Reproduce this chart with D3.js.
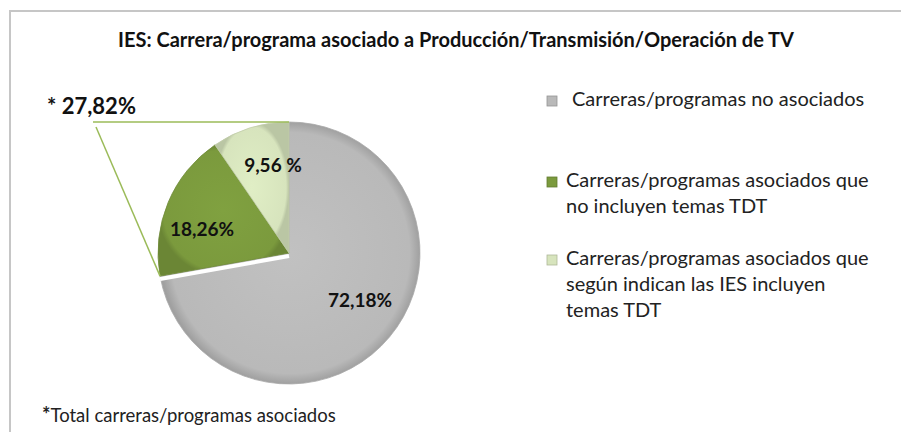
<!DOCTYPE html>
<html>
<head>
<meta charset="utf-8">
<script src="https://cdn.jsdelivr.net/npm/d3@7"></script>
<style>
body { margin: 0; background: #fff; }
text { font-family: Lato, "Open Sans", sans-serif; }
</style>
</head>
<body>
<div id="chart"></div>
<script>
// chart data
var categories = ["Carreras/programas no asociados",
    "Carreras/programas asociados que no incluyen temas TDT",
    "Carreras/programas asociados que según indican las IES incluyen temas TDT"];
var values = [72.18, 18.26, 9.56];
var valueLabels = ["72,18%", "18,26%", "9,56 %"];
var legendLines = [
    ["Carreras/programas no asociados"],
    ["Carreras/programas asociados que", "no incluyen temas TDT"],
    ["Carreras/programas asociados que", "según indican las IES incluyen", "temas TDT"]
];
var totalLabel = "* 27,82%";

var w = 901;
var h = 432;
var cx = 289, cy = 253, r = 131;
var colors = ["#b9b9b9", "#7b9a3d", "#d7e4bd"];

var svg = d3.select("#chart")
    .append("svg")
    .attr("width", w)
    .attr("height", h);

// frame
svg.append("path")
    .attr("d", "M10," + h + "V11H" + w)
    .attr("fill", "none")
    .attr("stroke", "#c6c6c6")
    .attr("stroke-width", 2);

// title
svg.append("text")
    .attr("x", 456)
    .attr("y", 47)
    .attr("text-anchor", "middle")
    .attr("font-size", "20px")
    .attr("font-weight", "bold")
    .attr("fill", "#111")
    .text("IES: Carrera/programa asociado a  Producción/Transmisión/Operación de TV");

var defs = svg.append("defs");
colors.forEach(function (c, i) {
    var g = defs.append("radialGradient")
        .attr("id", "grad" + i)
        .attr("cx", "50%").attr("cy", "50%").attr("r", "50%");
    g.append("stop").attr("offset", "0%").attr("stop-color", d3.color(c).brighter(0.12));
    g.append("stop").attr("offset", "92%").attr("stop-color", c);
    g.append("stop").attr("offset", "100%").attr("stop-color", d3.color(c).darker(0.4));
});

var pie = d3.pie().sort(null).value(function (d) { return d; });
var arcs = pie(values);
var arc = d3.arc().innerRadius(0).outerRadius(r);

var gPie = svg.append("g")
    .attr("transform", "translate(" + cx + "," + cy + ")");

gPie.selectAll("path")
    .data(arcs)
    .enter()
    .append("path")
    .attr("d", arc)
    .attr("fill", function (d, i) { return "url(#grad" + i + ")"; })
    .attr("stroke", function (d, i) { return i == 0 ? "#a9a9a9" : d3.color(colors[i]).darker(0.3); })
    .attr("stroke-width", 0.8);

// white highlight between gray and green slice
var a0 = arcs[0].endAngle;
gPie.append("line")
    .attr("x1", 0).attr("y1", 0)
    .attr("x2", r * Math.sin(a0))
    .attr("y2", -r * Math.cos(a0))
    .attr("stroke", "#fff")
    .attr("stroke-width", 4)
    .attr("transform", "translate(0,3)");

// slice labels
var labelPos = [[71, 54], [-87, -17], [-16, -81]];
gPie.selectAll("text.val")
    .data(valueLabels)
    .enter()
    .append("text")
    .attr("class", "val")
    .attr("x", function (d, i) { return labelPos[i][0]; })
    .attr("y", function (d, i) { return labelPos[i][1]; })
    .attr("text-anchor", "middle")
    .attr("font-size", "19px")
    .attr("font-weight", "bold")
    .attr("fill", "#111")
    .text(function (d) { return d; });

// connector to the associated share
var a1 = arcs[1].startAngle;
svg.append("line")
    .attr("x1", 93).attr("y1", 122)
    .attr("x2", cx).attr("y2", cy - r)
    .attr("stroke", "#9bbb59").attr("stroke-width", 1.5);
svg.append("line")
    .attr("x1", 96).attr("y1", 127)
    .attr("x2", cx + r * Math.sin(a1)).attr("y2", cy - r * Math.cos(a1))
    .attr("stroke", "#9bbb59").attr("stroke-width", 1.5);

svg.append("text")
    .attr("x", 47)
    .attr("y", 114)
    .attr("font-size", "22px")
    .attr("font-weight", "bold")
    .attr("fill", "#111")
    .text(totalLabel);

// legend
var legendY = [106, 187, 265];
var legendX = [572, 566, 566];
var leg = svg.selectAll("g.leg")
    .data(legendLines)
    .enter()
    .append("g")
    .attr("class", "leg");

leg.append("rect")
    .attr("x", 547)
    .attr("y", function (d, i) { return legendY[i] - 10; })
    .attr("width", 10)
    .attr("height", 10)
    .attr("fill", function (d, i) { return colors[i]; })
    .attr("stroke", function (d, i) { return d3.color(colors[i]).darker(0.6); })
    .attr("stroke-width", 0.8);

leg.each(function (d, i) {
    var t = d3.select(this).append("text")
        .attr("font-size", "20px")
        .attr("fill", "#222");
    d.forEach(function (line, j) {
        t.append("tspan")
            .attr("x", legendX[i])
            .attr("y", legendY[i] + j * 26)
            .text(line);
    });
});

// footnote
var foot = svg.append("text")
    .attr("x", 42)
    .attr("y", 422)
    .attr("font-size", "18.5px")
    .attr("fill", "#222");
foot.append("tspan").attr("font-weight", "bold").attr("font-size", "20px").text("*");
foot.append("tspan").text("Total carreras/programas asociados");
</script>
</body>
</html>
